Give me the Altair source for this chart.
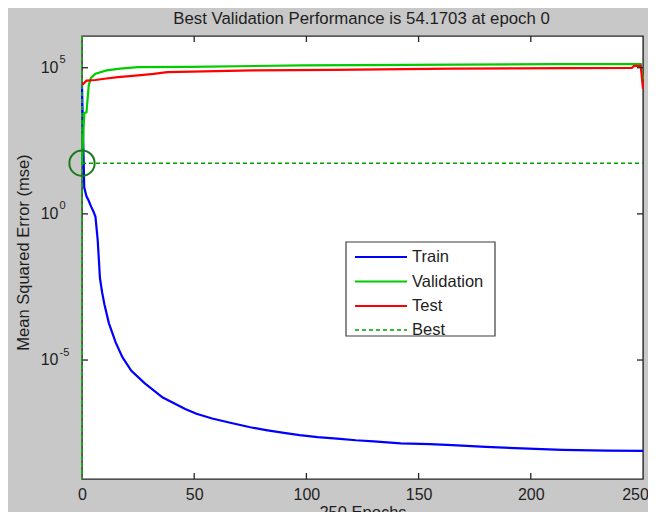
import altair as alt
import pandas as pd

# ---------------- data ----------------
title_text = "Best Validation Performance is 54.1703 at epoch 0"
best_epoch = 0
best_value = 54.1703
last_epoch = 250

train_epochs = [0, 1, 2, 3, 4, 5, 6, 7, 8, 9, 10, 12, 15, 18, 22, 28, 36, 46, 51, 58,
                67, 75, 82, 90, 97, 105, 115, 122, 130, 142, 155, 165, 180, 196, 214, 234, 250]
train_mse = [2.5e4, 7.9, 4.0, 2.8, 1.8, 1.26, 0.79, 0.126, 6.3e-3, 2.0e-3, 7.9e-4, 1.8e-4,
             4.0e-5, 1.26e-5, 4.3e-6, 1.6e-6, 5.2e-7, 2.1e-7, 1.45e-7, 1.0e-7,
             6.9e-8, 5.0e-8, 4.0e-8, 3.2e-8, 2.7e-8, 2.3e-8, 2.0e-8, 1.8e-8, 1.66e-8,
             1.41e-8, 1.32e-8, 1.23e-8, 1.07e-8, 9.5e-9, 8.5e-9, 7.9e-9, 7.8e-9]

val_epochs = [0, 1, 2, 3, 4, 6, 11, 17, 25, 48, 98, 210, 249, 250]
val_mse = [54.17, 2.8e3, 3.0e3, 2.5e4, 4.5e4, 6.2e4, 8.1e4, 9.3e4, 1.05e5, 1.07e5,
           1.2e5, 1.32e5, 1.32e5, 4.0e4]

test_epochs = [0, 2, 6, 10, 16, 25, 32, 38, 76, 112, 165, 245, 246, 249, 250]
test_mse = [2.5e4, 3.6e4, 3.8e4, 4.2e4, 4.8e4, 5.5e4, 6.2e4, 7.1e4, 8.1e4, 8.5e4,
            9.3e4, 9.8e4, 1.15e5, 1.15e5, 1.9e4]

series_names = ["Train", "Validation", "Test"]
series_colors = ["#0000FF", "#00CC00", "#FF0000"]
legend_labels = ["Train", "Validation", "Test", "Best"]
legend_colors = ["#0000FF", "#00CC00", "#FF0000", "#00A000"]

x_ticks = [0, 50, 100, 150, 200, 250]
x_inner_ticks = [50, 100, 150, 200]
y_ticks = [1e-5, 1.0, 1e5]
y_tick_base = ["10", "10", "10"]
y_tick_exp = ["-5", "0", "5"]
y_domain = [10 ** -9.07, 10 ** 6.085]

# ---------------- layout constants ----------------
W, H = 561, 443
FONT = "Liberation Sans"
TXT = "#1e1e1e"
TICK_LEN = 6

rows = []
for name, ep, vals in zip(series_names, [train_epochs, val_epochs, test_epochs],
                          [train_mse, val_mse, test_mse]):
    for e, v in zip(ep, vals):
        rows.append({"epoch": e, "mse": v, "series": name})
df = pd.DataFrame(rows)

xscale = alt.Scale(domain=[0, last_epoch], nice=False, zero=False)
yscale = alt.Scale(type="log", domain=y_domain, nice=False)

x_axis = alt.Axis(values=x_ticks, ticks=False, tickSize=0, domain=False, grid=False,
                  labelFlush=False,
                  labelOffset=alt.ExprRef("datum.value == 250 ? -8 : 0"),
                  labelFontSize=16, labelColor=TXT, labelPadding=7, labelFont=FONT,
                  titleFontSize=16.5, titleFontWeight="normal",
                  titleColor=TXT, titleFont=FONT, titleY=25, titleX=W / 2,
                  titleBaseline="top", titleAlign="center")
y_axis = alt.Axis(values=y_ticks, ticks=False, tickSize=0, domain=False, grid=False,
                  labels=False,
                  titleFontSize=16.5,
                  titleFontWeight="normal", titleColor=TXT, titleFont=FONT,
                  titleX=-59, titleY=216, titleAngle=270, titleBaseline="middle",
                  titleAlign="center")

X = alt.X("epoch:Q", scale=xscale, axis=x_axis, title="250 Epochs")
Y = alt.Y("mse:Q", scale=yscale, axis=y_axis, title="Mean Squared Error  (mse)")

lines = alt.Chart(df).mark_line(strokeWidth=2.2, interpolate="linear").encode(
    x=X,
    y=Y,
    color=alt.Color("series:N", scale=alt.Scale(domain=series_names, range=series_colors),
                    legend=None),
    order=alt.Order("epoch:Q"),
    detail="series:N",
)

# best markers
best_df = pd.DataFrame({"epoch": [best_epoch], "epoch_end": [last_epoch], "mse": [best_value]})
best_h = alt.Chart(best_df).mark_rule(color="#00A000", strokeWidth=1.5, strokeDash=[4, 3]).encode(
    x=X, x2="epoch_end:Q", y=Y)
best_v = alt.Chart(best_df).mark_rule(color="#00C000", strokeWidth=1.5, strokeDash=[4, 3]).encode(
    x=X, y=alt.value(0), y2=alt.value(H))
best_circle = alt.Chart(best_df).mark_point(shape="circle", size=640, strokeWidth=2,
                                             filled=False, color="#1A7A1A", opacity=1).encode(
    x=X, y=Y)

# inward ticks (MATLAB style)
xt_df = pd.DataFrame({"epoch": x_inner_ticks})
yt_df = pd.DataFrame({"mse": y_ticks, "base": y_tick_base, "exp": y_tick_exp})
tick_style = dict(color="#262626", strokeWidth=1.3)
xt_bottom = alt.Chart(xt_df).mark_rule(**tick_style).encode(
    x=X, y=alt.value(H), y2=alt.value(H - TICK_LEN))
xt_top = alt.Chart(xt_df).mark_rule(**tick_style).encode(
    x=X, y=alt.value(0), y2=alt.value(TICK_LEN))
yt_left = alt.Chart(yt_df).mark_rule(**tick_style).encode(
    y=Y, x=alt.value(0), x2=alt.value(TICK_LEN))
yt_right = alt.Chart(yt_df).mark_rule(**tick_style).encode(
    y=Y, x=alt.value(W), x2=alt.value(W - TICK_LEN))

# y tick labels with real superscript exponents
yl_base = alt.Chart(yt_df).mark_text(align="right", baseline="middle", fontSize=16,
                                     font=FONT, color=TXT).encode(
    y=Y, x=alt.value(-23.5), text="base:N")
yl_exp = alt.Chart(yt_df).mark_text(align="left", baseline="alphabetic", fontSize=11,
                                    font=FONT, color=TXT, dy=-4.5).encode(
    y=Y, x=alt.value(-22.5), text="exp:N")

# title (as text above the plot area)
one = pd.DataFrame({"k": [0]})
title_mark = alt.Chart(one).mark_text(text=title_text, align="center", baseline="alphabetic",
                                      fontSize=16.8, font=FONT, color=TXT).encode(
    x=alt.value(W / 2 - 1), y=alt.value(-12))

# manual legend box
LX0, LX1, LY0, LY1 = 264, 413, 206, 300
leg_box = alt.Chart(one).mark_rect(fill="white", stroke="#3c3c3c", strokeWidth=1.2).encode(
    x=alt.value(LX0), x2=alt.value(LX1), y=alt.value(LY0), y2=alt.value(LY1))
leg_layers = [leg_box]
row_y = [221, 245.5, 270, 294]
for lab, col, yy in zip(legend_labels, legend_colors, row_y):
    if lab == "Best":
        ln = alt.Chart(one).mark_rule(color=col, strokeWidth=1.5, strokeDash=[4, 3])
    else:
        ln = alt.Chart(one).mark_rule(color=col, strokeWidth=2.2)
    leg_layers.append(ln.encode(x=alt.value(273), x2=alt.value(325), y=alt.value(yy)))
    leg_layers.append(alt.Chart(one).mark_text(text=lab, align="left", baseline="middle",
                                               fontSize=16.5, font=FONT, color=TXT).encode(
        x=alt.value(330), y=alt.value(yy)))

chart = alt.layer(
    lines, best_h, best_v, best_circle, xt_bottom, xt_top, yt_left, yt_right,
    yl_base, yl_exp, title_mark, *leg_layers
).properties(
    width=W, height=H,
    autosize=alt.AutoSizeParams(type="none"),
    padding={"left": 74, "top": 28, "right": 5, "bottom": 33},
).configure(
    background="#c8c8c8",
).configure_view(
    fill="white", stroke="#262626", strokeWidth=1.4,
)

chart.save("out.html", embed_options={"renderer": "svg", "actions": False})
